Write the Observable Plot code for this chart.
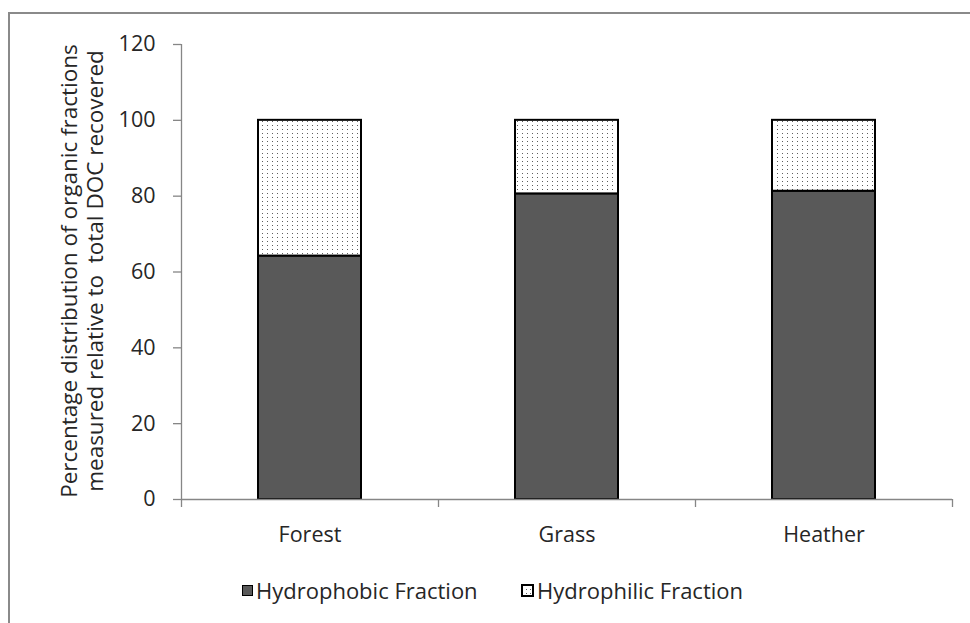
<!DOCTYPE html>
<html>
<head>
<meta charset="utf-8">
<script src="https://cdn.jsdelivr.net/npm/d3@7"></script>
<script src="https://cdn.jsdelivr.net/npm/@observablehq/plot@0.6"></script>
<style>
  html, body { margin: 0; padding: 0; background: #fff; overflow: hidden; }
  body { width: 970px; height: 623px; position: relative; font-family: "Open Sans", sans-serif; color: #262626; }
  #frame { position: absolute; left: 8px; top: 12px; width: 1000px; height: 700px;
           border-top: 2px solid #8a8a8a; border-left: 2px solid #8a8a8a; box-sizing: border-box; pointer-events: none; }
  #chart svg { display: block; }
  #legend { position: relative; height: 40px; font-size: 22px; line-height: 40px; }
  .item { position: absolute; top: 0; display: flex; align-items: center; height: 40px; white-space: nowrap; }
  .sw { width: 11px; height: 11px; box-sizing: border-box; border: 1px solid #000; margin-right: 3px; }
</style>
</head>
<body>
<div id="chart"></div>
<div id="legend"></div>
<div id="frame"></div>
<script>
// ---- data ----
const sites = ["Forest", "Grass", "Heather"];
const fractions = ["Hydrophobic Fraction", "Hydrophilic Fraction"];
const hydrophobic = [64.2, 80.6, 81.3];
const hydrophilic = [35.8, 19.4, 18.7];
const yTicks = [0, 20, 40, 60, 80, 100, 120];
const yTitle = ["Percentage distribution of organic fractions", "measured relative to  total DOC recovered"];

const rows = [];
sites.forEach((s, i) => {
  rows.push({site: s, fraction: fractions[0], value: hydrophobic[i]});
  rows.push({site: s, fraction: fractions[1], value: hydrophilic[i]});
});

const W = 970, H = 570;
const mL = 181, mR = 18, mT = 44, mB = 71;
const step = (W - mL - mR) / sites.length;
const axisColor = "#868686";
const textColor = "#262626";

const plot = Plot.plot({
  width: W, height: H,
  marginLeft: mL, marginRight: mR, marginTop: mT, marginBottom: mB,
  style: {fontFamily: "Open Sans, sans-serif", fontSize: "21.5px", color: textColor, background: "white", overflow: "visible"},
  x: {domain: sites, paddingInner: 0.6, paddingOuter: 0.3, label: null},
  y: {domain: [0, 120], label: null},
  color: {domain: fractions, range: ["#595959", "url(#dots)"]},
  marks: [
    Plot.barY(rows, {x: "site", y: "value", fill: "fraction", stroke: "#000", strokeWidth: 2, order: fractions}),
    // axes lines
    Plot.ruleY([0], {stroke: axisColor, strokeWidth: 1.3}),
    Plot.ruleX([sites[0]], {dx: -step / 2, stroke: axisColor, strokeWidth: 1.3}),
    // category boundary ticks
    Plot.ruleX(sites, {x: d => d, dx: -step / 2, y1: 0, y2: 0, insetBottom: -8, stroke: axisColor, strokeWidth: 1.3}),
    Plot.ruleX([sites[sites.length - 1]], {dx: step / 2, y1: 0, y2: 0, insetBottom: -8, stroke: axisColor, strokeWidth: 1.3}),
    Plot.axisY({ticks: yTicks, tickSize: 8, tickPadding: 18, stroke: axisColor, strokeWidth: 1.3, fill: textColor, label: null, fontSize: 21.5}),
    Plot.axisX({tickSize: 0, tickPadding: 27, fill: textColor, label: null, fontSize: 21.5}),
    Plot.text([yTitle.join("\n")], {frameAnchor: "left", textAnchor: "middle", rotate: -90, dx: -100, dy: -1, lineHeight: 1.16, fontSize: 22.5, fill: textColor})
  ]
});

// pattern for hydrophilic fraction
const svgSel = d3.select(plot);
const defs = svgSel.insert("defs", ":first-child");
const pat = defs.append("pattern").attr("id", "dots").attr("patternUnits", "userSpaceOnUse")
  .attr("width", 5).attr("height", 4);
pat.append("rect").attr("width", 5).attr("height", 4).attr("fill", "#fff");
pat.append("rect").attr("x", 2).attr("y", 1).attr("width", 1).attr("height", 1).attr("fill", "#5e5e5e");

document.getElementById("chart").appendChild(plot);

// legend
const legend = d3.select("#legend");
const lefts = [242, 521];
fractions.forEach((f, i) => {
  const it = legend.append("div").attr("class", "item").style("left", lefts[i] + "px");
  if (i === 0) {
    it.append("div").attr("class", "sw").style("background", "#595959");
  } else {
    const s = it.append("svg").attr("width", 13).attr("height", 13).style("margin-right", "3px");
    const d = s.append("defs").append("pattern").attr("id", "dotsLeg").attr("patternUnits", "userSpaceOnUse")
      .attr("width", 4).attr("height", 4);
    d.append("rect").attr("width", 4).attr("height", 4).attr("fill", "#fff");
    d.append("rect").attr("x", 1).attr("y", 1).attr("width", 1).attr("height", 1).attr("fill", "#5e5e5e");
    s.append("rect").attr("x", 1).attr("y", 1).attr("width", 11).attr("height", 11)
      .attr("fill", "url(#dotsLeg)").attr("stroke", "#000").attr("stroke-width", 2);
  }
  it.append("span").text(f);
});
</script>
</body>
</html>
